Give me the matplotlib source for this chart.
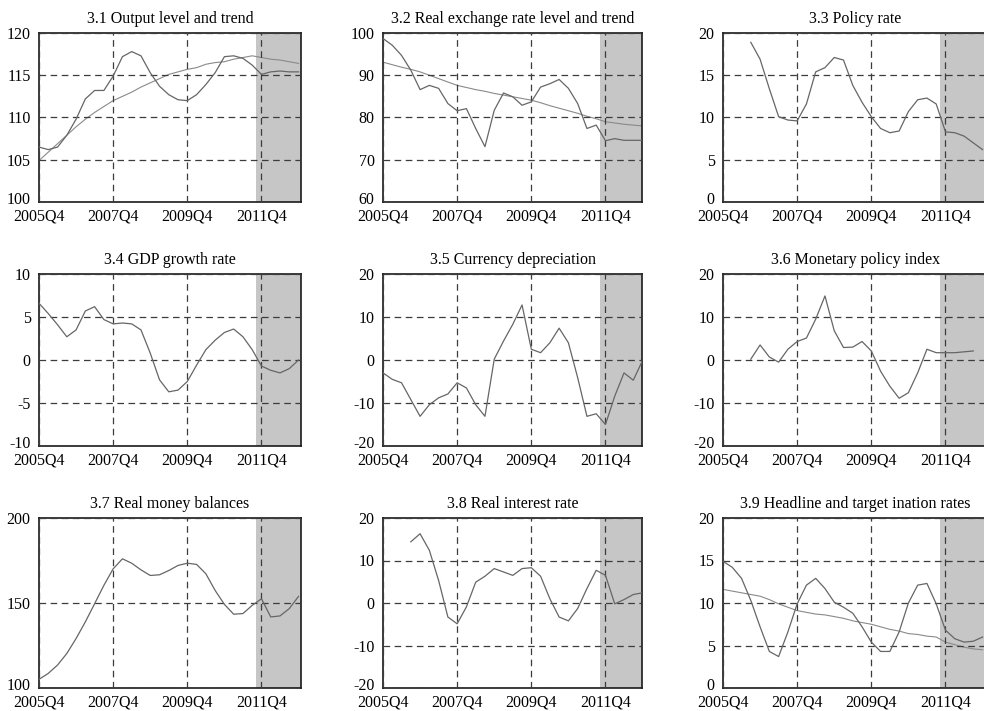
import numpy as np
import pandas as pd
import matplotlib
matplotlib.use("Agg")
import matplotlib.pyplot as plt
from matplotlib.transforms import ScaledTranslation

plt.rcParams["font.family"] = ["Liberation Serif", "DejaVu Serif"]

quarters = [str(p) for p in pd.period_range("2005Q4", "2012Q4", freq="Q")]
tick_quarters = ["2005Q4", "2007Q4", "2009Q4", "2011Q4"]
nan = np.nan

output_level = [106.5, 106.2, 106.5, 107.9, 109.8, 112.2, 113.2, 113.2, 114.9, 117.2,
                117.8, 117.3, 115.3, 113.7, 112.7, 112.1, 112.0, 112.7, 113.9, 115.3,
                117.2, 117.3, 117.0, 116.2, 115.1, 115.4, 115.5, 115.4, 115.4]
output_trend = [104.9, 105.9, 106.9, 107.9, 108.9, 109.8, 110.6, 111.3, 112.0, 112.5,
                113.0, 113.6, 114.1, 114.6, 115.1, 115.4, 115.7, 115.9, 116.3, 116.5,
                116.6, 116.9, 117.1, 117.3, 117.1, 116.9, 116.8, 116.6, 116.4]
rer_level = [98.7, 97.1, 94.7, 91.2, 86.6, 87.6, 86.9, 83.3, 81.6, 82.1,
             77.4, 73.1, 81.7, 85.8, 84.9, 82.9, 83.7, 87.2, 88.0, 89.0,
             86.9, 83.3, 77.4, 78.2, 74.5, 75.0, 74.6, 74.6, 74.6]
rer_trend = [93.1, 92.5, 91.9, 91.4, 90.8, 90.0, 89.2, 88.4, 87.6, 87.1,
             86.6, 86.2, 85.7, 85.3, 84.9, 84.5, 84.1, 83.5, 82.8, 82.2,
             81.6, 81.0, 80.3, 79.7, 79.0, 78.7, 78.4, 78.2, 78.0]
policy_rate = [nan, nan, nan, 18.9, 16.9, 13.4, 10.1, 9.7, 9.6, 11.6,
               15.4, 15.9, 17.1, 16.8, 13.8, 11.8, 10.1, 8.7, 8.2, 8.4,
               10.7, 12.1, 12.3, 11.6, 8.3, 8.2, 7.8, 7.0, 6.2]
gdp_growth = [6.6, 5.4, 4.1, 2.7, 3.5, 5.7, 6.2, 4.7, 4.2, 4.3,
              4.2, 3.5, 0.8, -2.3, -3.7, -3.5, -2.5, -0.6, 1.2, 2.3,
              3.2, 3.6, 2.7, 1.2, -0.7, -1.2, -1.5, -1.0, 0.0]
depreciation = [-3.0, -4.5, -5.3, -9.2, -13.1, -10.4, -8.8, -7.9, -5.3, -6.5,
                -10.4, -13.1, 0.2, 4.4, 8.3, 12.8, 2.5, 1.7, 4.0, 7.4,
                4.0, -4.1, -13.1, -12.5, -15.0, -8.4, -3.0, -4.7, -0.1]
mp_index = [nan, nan, nan, 0.2, 3.5, 0.7, -0.5, 2.5, 4.3, 5.1,
            9.5, 14.9, 6.8, 2.9, 3.0, 4.3, 2.1, -2.6, -6.1, -8.9,
            -7.6, -3.0, 2.5, 1.7, 1.7, 1.7, 1.9, 2.1, nan]
money_balances = [105.1, 108.6, 113.5, 120.3, 129.1, 138.9, 149.6, 160.4, 170.1, 176.0,
                  173.4, 169.5, 166.2, 166.6, 169.1, 172.1, 173.4, 172.7, 167.2, 157.4,
                  149.2, 143.4, 143.8, 148.6, 152.5, 141.8, 142.4, 146.7, 153.9]
real_interest = [nan, nan, nan, 14.4, 16.3, 12.4, 5.3, -3.3, -4.9, -0.9,
                 4.9, 6.3, 8.1, 7.3, 6.5, 8.1, 8.3, 6.3, 1.0, -3.3,
                 -4.2, -1.3, 3.4, 7.7, 6.5, -0.2, 0.8, 2.0, 2.4]
headline_infl = [14.9, 14.2, 12.9, 10.3, 7.2, 4.3, 3.7, 6.6, 9.9, 12.1,
                 12.9, 11.7, 10.1, 9.5, 8.8, 7.2, 5.4, 4.3, 4.3, 6.6,
                 10.0, 12.1, 12.3, 9.9, 6.8, 5.8, 5.4, 5.5, 6.0]
target_infl = [11.6, 11.4, 11.2, 11.0, 10.8, 10.4, 9.9, 9.5, 9.1, 8.9,
               8.7, 8.6, 8.4, 8.2, 7.9, 7.7, 7.5, 7.2, 6.9, 6.7,
               6.4, 6.3, 6.1, 6.0, 5.4, 5.1, 4.8, 4.6, 4.5]

panels = [
    ("3.1 Output level and trend", [output_level, output_trend], (100, 120), [100, 105, 110, 115, 120]),
    ("3.2 Real exchange rate level and trend", [rer_level, rer_trend], (60, 100), [60, 70, 80, 90, 100]),
    ("3.3 Policy rate", [policy_rate], (0, 20), [0, 5, 10, 15, 20]),
    ("3.4 GDP growth rate", [gdp_growth], (-10, 10), [-10, -5, 0, 5, 10]),
    ("3.5 Currency depreciation", [depreciation], (-20, 20), [-20, -10, 0, 10, 20]),
    ("3.6 Monetary policy index", [mp_index], (-20, 20), [-20, -10, 0, 10, 20]),
    ("3.7 Real money balances", [money_balances], (100, 200), [100, 150, 200]),
    ("3.8 Real interest rate", [real_interest], (-20, 20), [-20, -10, 0, 10, 20]),
    ("3.9 Headline and target ination rates", [headline_infl, target_infl], (0, 20), [0, 5, 10, 15, 20]),
]

W, H = 984.0, 711.0
col_px = [(39, 262), (383, 259), (723, 265)]  # left, width in pixels
row_px = [(33, 202), (274, 446), (518, 688)]  # top, bottom in pixels

fig = plt.figure(figsize=(W / 100, H / 100), dpi=100)
x = np.arange(len(quarters))
tick_pos = [quarters.index(q) for q in tick_quarters]
shade_start = 23.4
lift = ScaledTranslation(0, 4 / 100, fig.dpi_scale_trans)  # nudge lowest y label up

for i, (title, series, ylim, yticks) in enumerate(panels):
    r, c = divmod(i, 3)
    left, width = col_px[c]
    top, bottom = row_px[r]
    ax = fig.add_axes([left / W, 1 - bottom / H, width / W, (bottom - top) / H])
    xmax = width / 9.27

    ax.axvspan(shade_start, xmax + 1, color="#c6c6c6", lw=0, zorder=0)
    for k, s in enumerate(series):
        vals = np.array(s, dtype=float)
        if k == 0:
            ax.plot(x, vals, color="#666666", lw=0.9, zorder=3)
        else:
            ax.plot(x, vals, color="#8a8a8a", lw=0.8, zorder=2)

    ax.set_xlim(0, xmax)
    ax.set_ylim(*ylim)
    ax.set_xticks(tick_pos)
    ax.set_xticklabels(tick_quarters)
    ax.set_yticks(yticks)
    ylabels = ax.set_yticklabels([str(v) for v in yticks])
    ax.grid(True, color="#3c3c3c", lw=0.9, linestyle=(0, (5.3, 3.6)), zorder=1)
    ax.set_axisbelow(False)
    ax.tick_params(length=0, labelsize=11.5)
    ax.tick_params(axis="x", pad=4.5)
    ax.tick_params(axis="y", pad=6)
    ylabels[0].set_transform(ylabels[0].get_transform() + lift)
    for sp in ax.spines.values():
        sp.set_linewidth(1.2)
        sp.set_color("#1a1a1a")
    ax.set_title(title, fontsize=11.5, pad=7.5)

fig.savefig("out.png", dpi=100)
